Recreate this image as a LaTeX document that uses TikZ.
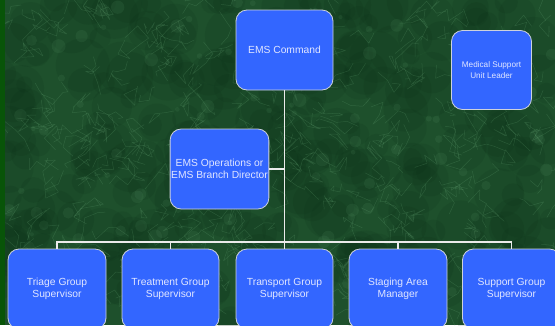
\documentclass[tikz,border=0pt]{standalone}
\usepackage{fontspec}
\setmainfont{Liberation Sans}
\begin{document}
\definecolor{bgbase}{RGB}{30,80,44}
\definecolor{bgdark}{RGB}{10,44,22}
\definecolor{bglight}{RGB}{110,175,125}
\definecolor{edgestrip}{RGB}{8,84,8}
\definecolor{boxfill}{RGB}{51,102,255}
\definecolor{boxline}{RGB}{205,210,220}
\definecolor{boxtext}{RGB}{225,230,255}
\definecolor{wire}{RGB}{235,235,235}
\begin{tikzpicture}[x=1pt,y=-1pt,
  unit/.style={draw=boxline, line width=0.8pt, fill=boxfill, rounded corners=11pt,
    text=boxtext, align=center, inner sep=1pt, font=\fontsize{10.3}{12.6}\selectfont},
  bigunit/.style={unit, minimum width=97pt, minimum height=80pt},
  smallunit/.style={unit, minimum width=80pt, minimum height=79pt,
    font=\fontsize{8.2}{10.3}\selectfont},
  wireline/.style={draw=wire, line width=1.8pt},
  busline/.style={draw=wire, line width=1.4pt}]
\useasboundingbox (0,0) rectangle (555,325);
\begin{scope}
\clip (0,0) rectangle (555,325);
% marble backdrop
\fill[bgbase] (0,0) rectangle (555,325);
\pgfmathsetseed{11}
\foreach \i in {1,...,320}{
  \pgfmathsetmacro\px{rnd*555}
  \pgfmathsetmacro\py{rnd*325}
  \pgfmathsetmacro\rr{8+rnd*20}
  \fill[bgdark, opacity=0.13] (\px,\py) circle[radius=\rr];
}
\foreach \i in {1,...,420}{
  \pgfmathsetmacro\px{rnd*555}
  \pgfmathsetmacro\py{rnd*325}
  \draw[bglight, opacity=0.22, line width=0.5pt, line join=round]
    (\px,\py) -- ++(rand*14,rand*14) -- ++(rand*14,rand*14) -- ++(rand*14,rand*14)
    -- ++(rand*14,rand*14);
}
\foreach \i in {1,...,120}{
  \pgfmathsetmacro\px{rnd*555}
  \pgfmathsetmacro\py{rnd*325}
  \pgfmathsetmacro\rr{2+rnd*5}
  \fill[bglight, opacity=0.10] (\px,\py) circle[radius=\rr];
}
\fill[edgestrip] (0,0) rectangle (5,325);

% units
\node[bigunit] (cmd) at (284.5,50) {EMS Command};
\node[smallunit] (med) at (491.5,70) {Medical Support\\Unit Leader};
\node[bigunit] (ops) at (219.5,169) {EMS Operations or\\EMS Branch Director};
\node[bigunit, minimum width=98pt] (triage) at (57,289) {Triage Group\\Supervisor};
\node[bigunit] (treat) at (170.5,289) {Treatment Group\\Supervisor};
\node[bigunit] (trans) at (284.5,289) {Transport Group\\Supervisor};
\node[bigunit, minimum width=98pt] (stage) at (398,289) {Staging Area\\Manager};
\node[bigunit, minimum width=98pt] (supp) at (511.5,289) {Support Group\\Supervisor};

% connectors
\coordinate (bus) at (284.5,242);
\draw[wireline] (cmd.south) -- (bus);
\draw[wireline] (ops.east) -- (ops.east -| cmd.south);
\draw[busline] (triage.north) -- (triage.north |- bus) -- (supp.north |- bus) -- (supp.north);
\draw[busline] (treat.north) -- (treat.north |- bus);
\draw[busline] (trans.north) -- (trans.north |- bus);
\draw[busline] (stage.north) -- (stage.north |- bus);
\end{scope}
\end{tikzpicture}
\end{document}
